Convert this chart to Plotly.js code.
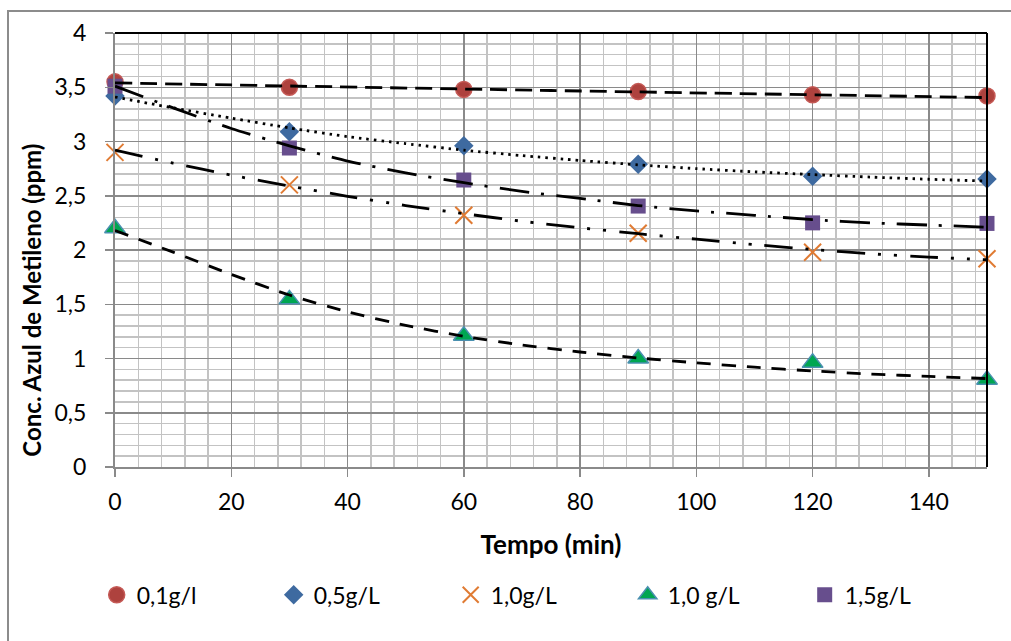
<!DOCTYPE html>
<html>
<head>
<meta charset="utf-8">
<script src="https://cdn.plot.ly/plotly-3.0.1.min.js"></script>
<style>
html,body{margin:0;padding:0;background:#fff;overflow:hidden;}
#wrap{position:relative;width:1011px;height:641px;}
#chart{position:absolute;left:0;top:0;width:1011px;height:641px;}
#frame{position:absolute;left:7px;top:10px;width:1100px;height:700px;border-left:2px solid #8c8c8c;border-top:2px solid #8c8c8c;pointer-events:none;}
</style>
</head>
<body>
<div id="wrap"><div id="chart"></div><div id="frame"></div></div>
<script>
// ---- data ----
const times = [0, 30, 60, 90, 120, 150];
const seriesNames = ['0,1g/l', '0,5g/L', '1,0g/L', '1,0 g/L', '1,5g/L'];
const conc01 = [3.55, 3.50, 3.48, 3.46, 3.43, 3.42];
const conc05 = [3.42, 3.09, 2.96, 2.79, 2.68, 2.655];
const conc10x = [2.90, 2.60, 2.32, 2.155, 1.98, 1.92];
const conc10tri = [2.20, 1.545, 1.21, 1.00, 0.96, 0.805];
const conc15 = [3.51, 2.94, 2.645, 2.405, 2.25, 2.245];

// trendlines
const trendX01 = [0, 75, 150];
const trend01 = [3.54, 3.47, 3.405];
const trendX = [0, 10, 20, 30, 40, 50, 60, 70, 80, 90, 100, 110, 120, 130, 140, 150];
const trend05 = [3.41, 3.31, 3.215, 3.125, 3.045, 2.98, 2.92, 2.87, 2.825, 2.785, 2.75, 2.72, 2.695, 2.672, 2.652, 2.635];
const trend10x = [2.92, 2.80, 2.69, 2.59, 2.495, 2.41, 2.335, 2.265, 2.205, 2.15, 2.10, 2.05, 2.005, 1.965, 1.935, 1.91];
const trend10tri = [2.18, 1.98, 1.775, 1.585, 1.43, 1.305, 1.205, 1.125, 1.06, 1.005, 0.96, 0.92, 0.885, 0.857, 0.835, 0.815];
const trend15 = [3.51, 3.31, 3.12, 2.96, 2.82, 2.71, 2.62, 2.54, 2.475, 2.41, 2.36, 2.32, 2.28, 2.25, 2.23, 2.21];

const xTicks = [0, 20, 40, 60, 80, 100, 120, 140];
const yTicks = [0, 0.5, 1, 1.5, 2, 2.5, 3, 3.5, 4];
const yTickText = ['0', '0,5', '1', '1,5', '2', '2,5', '3', '3,5', '4'];
const xTitle = 'Tempo (min)';
const yTitle = 'Conc. Azul de Metileno (ppm)';

const FONT = 'Lato, "Open Sans", sans-serif';

function markerTrace(name, y, marker) {
  return {x: times, y: y, name: name, type: 'scatter', mode: 'markers',
          marker: marker, cliponaxis: false, hoverinfo: 'x+y'};
}
function trendTrace(x, y, dash) {
  return {x: x, y: y, type: 'scatter', mode: 'lines', showlegend: false,
          line: {color: '#000', width: 2.8, dash: dash, shape: 'spline', smoothing: 0.6},
          cliponaxis: true, hoverinfo: 'skip'};
}

const traces = [
  markerTrace(seriesNames[0], conc01, {symbol: 'circle', size: 16, color: '#AE423E', line: {color: '#C55A56', width: 1.5}}),
  markerTrace(seriesNames[1], conc05, {symbol: 'diamond', size: 15, color: '#3E6AA0', line: {width: 0}}),
  markerTrace(seriesNames[2], conc10x, {symbol: 'x-thin-open', size: 17, color: '#E07B33', line: {color: '#E07B33', width: 2}}),
  markerTrace(seriesNames[3], conc10tri, {symbol: 'triangle-up', size: 18, color: '#00A651', line: {color: '#4A90B0', width: 1.5}}),
  markerTrace(seriesNames[4], conc15, {symbol: 'square', size: 15, color: '#674E8D', line: {width: 0}}),
  trendTrace(trendX01, trend01, '17px,8px'),
  trendTrace(trendX, trend05, '2.5px,5px'),
  trendTrace(trendX, trend10x, '28px,13px,3px,13px,3px,13px'),
  trendTrace(trendX, trend10tri, '14px,11px'),
  trendTrace(trendX, trend15, '30px,12px,3px,12px')
];

const layout = {
  width: 1011, height: 641,
  margin: {l: 115, r: 24, t: 33, b: 174, pad: 0},
  paper_bgcolor: '#fff', plot_bgcolor: '#fff',
  font: {family: FONT, size: 23, color: '#000'},
  separators: ',.',
  showlegend: true,
  legend: {orientation: 'h', x: -0.021, xanchor: 'left', y: -0.245, yanchor: 'top',
           entrywidth: 132, entrywidthmode: 'pixels', font: {family: FONT, size: 23, color: '#000'},
           itemclick: false, traceorder: 'normal'},
  xaxis: {
    range: [0, 150], tickvals: xTicks, ticktext: xTicks.map(String),
    showgrid: true, gridcolor: '#8a8a8a', gridwidth: 1.5,
    minor: {dtick: 4, tick0: 0, showgrid: true, gridcolor: '#c3c3c3', gridwidth: 1.5, ticks: ''},
    showline: true, linecolor: '#8a8a8a', linewidth: 2,
    ticks: 'outside', ticklen: 8, tickcolor: '#8a8a8a', tickwidth: 1.5,
    ticklabelstandoff: 5,
    zeroline: false,
    tickfont: {family: FONT, size: 23, color: '#000'},
    title: {text: '<b>' + xTitle + '</b>', font: {family: FONT, size: 26, color: '#000'}, standoff: 22}
  },
  yaxis: {
    range: [0, 4], tickvals: yTicks, ticktext: yTickText,
    showgrid: true, gridcolor: '#8a8a8a', gridwidth: 1.5,
    minor: {dtick: 0.1, tick0: 0, showgrid: true, gridcolor: '#c3c3c3', gridwidth: 1.5, ticks: ''},
    showline: true, linecolor: '#8a8a8a', linewidth: 2,
    ticks: 'outside', ticklen: 8, tickcolor: '#8a8a8a', tickwidth: 1.5,
    ticklabelstandoff: 14,
    zeroline: false,
    tickfont: {family: FONT, size: 23, color: '#000'}
  },
  annotations: [
    {text: '<b>' + yTitle + '</b>', textangle: -90, xref: 'paper', yref: 'paper',
     x: -0.0955, y: 0.385, xanchor: 'center', yanchor: 'middle', showarrow: false,
     font: {family: FONT, size: 24, color: '#000'}}
  ],
  shapes: [
    {type: 'line', xref: 'paper', yref: 'paper', x0: 0, x1: 1, y0: 1, y1: 1, line: {color: '#000', width: 2}},
    {type: 'line', xref: 'paper', yref: 'paper', x0: 1, x1: 1, y0: 0, y1: 1, line: {color: '#000', width: 2}}
  ]
};

Plotly.newPlot('chart', traces, layout, {displayModeBar: false, staticPlot: true});
</script>
</body>
</html>
